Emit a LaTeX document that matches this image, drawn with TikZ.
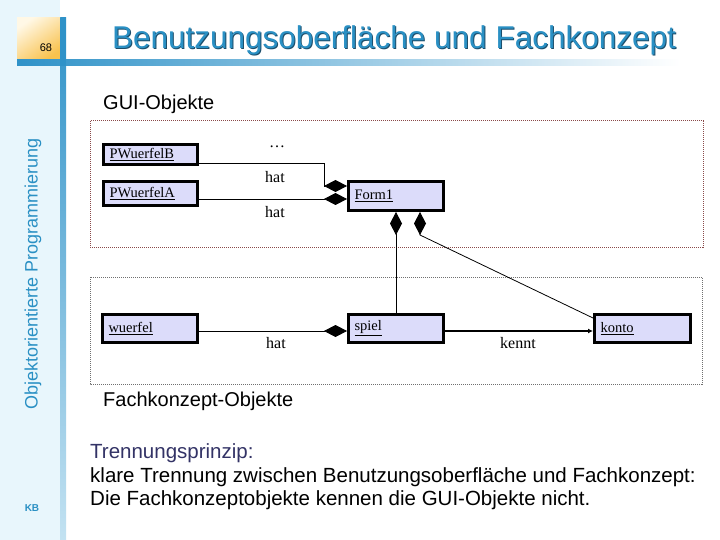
\documentclass[tikz,border=0pt]{standalone}
\usepackage{fontspec}
\setmainfont{Liberation Sans}
\newfontfamily\umlfont{Liberation Serif}
\usetikzlibrary{arrows.meta}
\definecolor{sidebg}{HTML}{E8F6FC}
\definecolor{barblue}{HTML}{2F92C8}
\definecolor{titleblue}{HTML}{2A90C4}
\definecolor{titleshadow}{HTML}{1C4E6B}
\definecolor{umlfill}{HTML}{DCDCFA}
\definecolor{guidot}{HTML}{8A4A4A}
\definecolor{fkdot}{HTML}{707070}
\definecolor{prinzip}{HTML}{333366}
\definecolor{numlight}{HTML}{FFF8E6}
\definecolor{numdark}{HTML}{F8C24E}
\begin{document}
\begin{tikzpicture}[x=1pt,y=-1pt,
  umlbox/.style={draw=black,line width=3pt,fill=umlfill,inner xsep=6pt,inner ysep=0pt,
    align=left,font=\umlfont\fontsize{14.5}{16}\selectfont},
  lbl/.style={font=\umlfont\fontsize{16}{18}\selectfont,inner sep=0pt},
  agg/.style={line width=0.8pt,{Diamond[length=23pt,width=12pt]}-},
  knows/.style={line width=1.3pt,-{Latex[length=5pt,width=5pt]}},
  bodytext/.style={anchor=west,inner sep=0pt,font=\fontsize{20.5}{23}\selectfont}]
\useasboundingbox (0,0) rectangle (720,540);
\fill[white] (0,0) rectangle (720,540);
% sidebar
\fill[sidebg] (0,0) rectangle (60,540);
\shade[top color=barblue, middle color=barblue!45!sidebg, bottom color=barblue!20!sidebg] (60,18) rectangle (66,540);
\shade[top color=numlight, bottom color=numdark, shading angle=35] (17,18) rectangle (60,60);
\shade[left color=barblue, middle color=barblue!75!white, right color=white] (17,60) rectangle (680,66);
\fill[barblue] (60,18) rectangle (66,66);
\node[font=\fontsize{11}{12}\selectfont,inner sep=0pt] (num) at (46,48) {68};
\node[rotate=90,font=\fontsize{18}{20}\selectfont,text=titleblue,inner sep=0pt] (side) at (33,274) {Objektorientierte Programmierung};
\node[font=\bfseries\fontsize{10}{12}\selectfont,text=titleblue,inner sep=0pt] (kb) at (32,508) {KB};
% title
\node[font=\fontsize{31.5}{36}\selectfont,text=titleshadow,inner sep=0pt] (titleshd) at (395,41) {Benutzungsoberfläche und Fachkonzept};
\node[font=\fontsize{31.5}{36}\selectfont,text=titleblue,inner sep=0pt] (title) at (394,40) {Benutzungsoberfläche und Fachkonzept};
% areas
\node[anchor=west,inner sep=0pt,font=\fontsize{20}{22}\selectfont] (gui) at (103,104) {GUI-Objekte};
\draw[guidot,line width=1pt,dash pattern=on 1pt off 1pt] (90,121) rectangle (703,247);
\draw[fkdot,line width=0.8pt,dash pattern=on 1pt off 1pt] (90,277) rectangle (702,384);
\node[anchor=west,inner sep=0pt,font=\fontsize{20}{22}\selectfont] (fk) at (103,401) {Fachkonzept-Objekte};
% uml boxes
\node[umlbox,text width=82pt,minimum height=20pt] (pwb) at (150.5,154.5) {\underline{PWuerfelB}};
\node[umlbox,text width=82pt,minimum height=24pt] (pwa) at (150.5,194) {\underline{PWuerfelA}};
\node[umlbox,text width=83pt,minimum height=29pt] (form1) at (396,196) {\underline{Form1}};
\node[umlbox,text width=83pt,minimum height=28pt] (wuerfel) at (150,328.5) {\underline{wuerfel}};
\node[umlbox,text width=83pt,minimum height=28pt] (spiel) at (396,328.5) {\underline{spiel}};
\node[umlbox,text width=84pt,minimum height=28pt] (konto) at (642.5,328.5) {\underline{konto}};
% helper coordinates
\coordinate (yb) at (0,163);
\coordinate (ybd) at (0,186);
\coordinate (ya) at (0,199);
\coordinate (bend) at (324,163);
\coordinate (bendd) at (324,186);
\coordinate (kx) at (420,235);
\coordinate (kend) at (0,318);
\coordinate (yf) at (0,331);
% connectors
\draw[agg] (form1.west |- ybd) -- (bendd) -- (bend) -- (pwb.east |- yb);
\draw[agg] (form1.west |- ya) -- (pwa.east |- ya);
\draw[agg] (form1.south) -- (spiel.north);
\draw[agg] (form1.south -| kx) -- (kx) -- (konto.west |- kend);
\draw[agg] (spiel.west |- yf) -- (wuerfel.east |- yf);
\draw[knows] (spiel.east |- yf) -- (konto.west |- yf);
% labels
\node[lbl] (dots) at (277,147) {\dots};
\node[lbl] (hat1) at (275,177) {hat};
\node[lbl] (hat2) at (275,212) {hat};
\node[lbl] (hat3) at (276,343) {hat};
\node[lbl] (kennt) at (518,343) {kennt};
% text
\node[bodytext,text=prinzip] (t1) at (90,453) {Trennungsprinzip:};
\node[bodytext] (t2) at (90,477) {klare Trennung zwischen Benutzungsoberfläche und Fachkonzept:};
\node[bodytext] (t3) at (90,500) {Die Fachkonzeptobjekte kennen die GUI-Objekte nicht.};
\end{tikzpicture}
\end{document}
